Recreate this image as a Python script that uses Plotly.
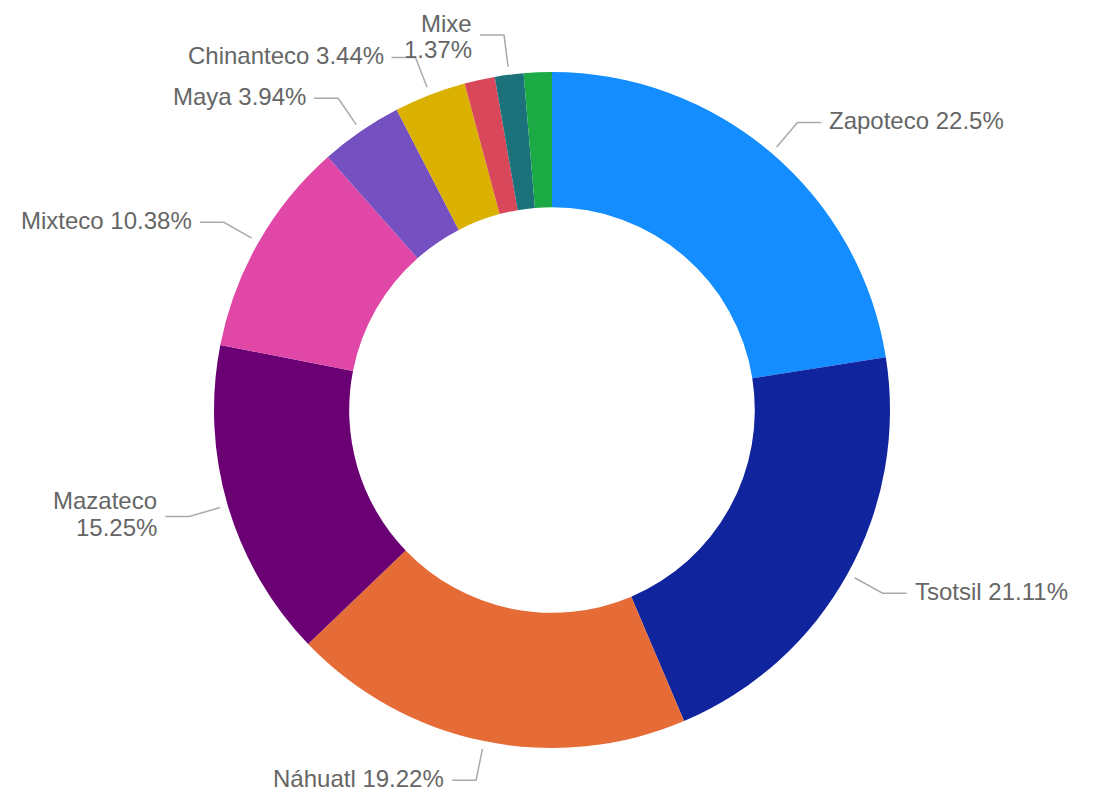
import numpy as np
import plotly.graph_objects as go

# datos
lenguas = ["Zapoteco", "Tsotsil", "Náhuatl", "Mazateco", "Mixteco",
           "Maya", "Chinanteco", "Otra (1)", "Mixe", "Otra (2)"]
porcentajes = [22.5, 21.11, 19.22, 15.25, 10.38, 3.94, 3.44, 1.45, 1.37, 1.34]
etiquetas = ["Zapoteco 22.5%", "Tsotsil 21.11%", "Náhuatl 19.22%",
             "Mazateco<br>15.25%", "Mixteco 10.38%", "Maya 3.94%",
             "Chinanteco 3.44%", None, "Mixe<br>1.37%", None]
colores = ["#138dff", "#10249e", "#e56c37", "#6a0073", "#e047a6",
           "#7450c0", "#dab100", "#d8485a", "#1b727a", "#1caa45"]

W, H = 1099, 794
cx, cy, R = 544, 402, 338   # pixels (page has 8px body margin)

dom_x = [(cx - R) / W, (cx + R) / W]
dom_y = [1 - (cy + R) / H, 1 - (cy - R) / H]

fig = go.Figure(go.Pie(
    labels=lenguas, values=porcentajes, sort=False, direction="clockwise",
    rotation=0, hole=0.6, textinfo="none",
    marker=dict(colors=colores, line=dict(width=0)),
    domain=dict(x=dom_x, y=dom_y),
))

def px2paper(x, y):
    return x / W, 1 - y / H

total = sum(porcentajes)
acum = np.cumsum([0] + porcentajes)
shapes, annots = [], []
for i, txt in enumerate(etiquetas):
    if txt is None:
        continue
    mid = (acum[i] + porcentajes[i] / 2) / total * 2 * np.pi
    s, c = np.sin(mid), np.cos(mid)
    x0, y0 = cx + (R + 8) * s, cy - (R + 8) * c
    x1, y1 = cx + (R + 40) * s, cy - (R + 40) * c
    lado = 1 if s >= 0 else -1
    x2 = x1 + lado * 24
    pts = [px2paper(x0, y0), px2paper(x1, y1), px2paper(x2, y1)]
    path = "M {} {} L {} {} L {} {}".format(*[v for p in pts for v in p])
    shapes.append(dict(type="path", xref="paper", yref="paper", path=path,
                       line=dict(color="#aaaaaa", width=1.5)))
    lineas = txt.split("<br>")
    n = len(lineas)
    paso = 27
    base = max(y1 - 2, 15 + (n - 1) / 2 * paso)   # keep text inside the page
    for k, linea in enumerate(lineas):
        tx, ty = px2paper(x2 + lado * 6, base + (k - (n - 1) / 2) * paso)
        annots.append(dict(x=tx, y=ty, xref="paper", yref="paper", text=linea,
                           showarrow=False, xanchor="left" if lado > 0 else "right",
                           yanchor="middle",
                           font=dict(family="Arial, Liberation Sans, sans-serif",
                                     size=24, color="#666666")))

fig.update_layout(
    width=W, height=H, margin=dict(l=0, r=0, t=0, b=0),
    showlegend=False, paper_bgcolor="white", plot_bgcolor="white",
    shapes=shapes, annotations=annots,
)
fig.write_html("out.html")
